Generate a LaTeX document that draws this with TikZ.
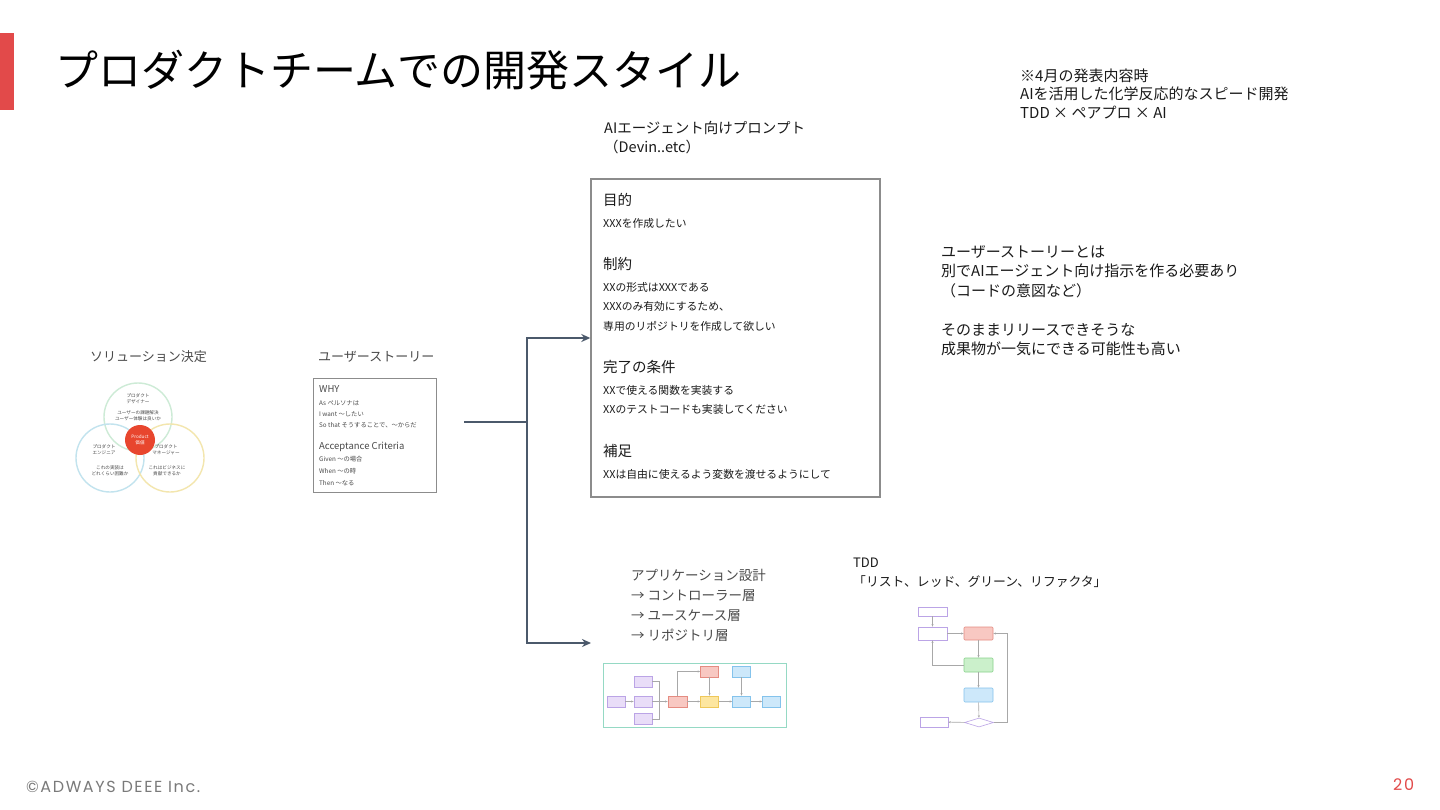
\documentclass[tikz,border=0pt]{standalone}
\usepackage{fontspec}
\setmainfont{Noto Sans CJK JP}
\newfontfamily\footfont[LetterSpace=10]{Poppins}
\usepackage{tikz}
\usetikzlibrary{arrows.meta,positioning,shapes.geometric}
\definecolor{ink}{HTML}{1A1A1A}
\definecolor{subink}{HTML}{4A4A4A}
\definecolor{frame}{HTML}{8C8C8C}
\definecolor{brand}{HTML}{E24A4A}
\definecolor{flowc}{HTML}{4B596B}
\definecolor{foot}{HTML}{7A7A7A}
\definecolor{vgreen}{HTML}{CDEBD6}
\definecolor{vblue}{HTML}{C2E3EE}
\definecolor{vyellow}{HTML}{F3E6AE}
\definecolor{vred}{HTML}{E8462E}
\definecolor{lilac}{HTML}{BBA4E6}
\definecolor{lilacfill}{HTML}{E9DDF8}
\definecolor{salmon}{HTML}{E58C82}
\definecolor{salmonfill}{HTML}{F8C8C2}
\definecolor{butter}{HTML}{EFC85A}
\definecolor{butterfill}{HTML}{FDE6A0}
\definecolor{sky}{HTML}{84C3EC}
\definecolor{skyfill}{HTML}{CDE8FA}
\definecolor{leaf}{HTML}{88D28C}
\definecolor{leaffill}{HTML}{CBF0CB}
\definecolor{mint}{HTML}{95D9C4}
\definecolor{wiregray}{HTML}{A8A8A8}
\tikzset{
  >={Stealth[length=9pt,width=8pt]},
  txt/.style={anchor=west, inner sep=0pt, text=ink, align=left},
  heading/.style={txt, font=\fontsize{14.5}{18}\selectfont},
  body/.style={txt, font=\fontsize{10.8}{14}\selectfont},
  note/.style={txt, font=\fontsize{15}{19.5}\selectfont},
  caption/.style={txt, text=subink, font=\fontsize{13}{16}\selectfont},
  card/.style={draw=frame, line width=1.4pt, fill=white, inner sep=0pt},
  flow/.style={->, line width=1.6pt, draw=flowc},
  ring/.style={circle, draw, line width=1.4pt, minimum size=68pt, inner sep=0pt},
  tiny/.style={align=center, inner sep=0pt, text=subink, font=\fontsize{4.6}{6}\selectfont},
  mini/.style={rectangle, line width=0.6pt, inner sep=0pt, minimum width=18pt, minimum height=11pt},
  wire/.style={line width=0.6pt, draw=wiregray},
  wirea/.style={wire, -{Stealth[length=2.5pt,width=2pt]}}
}

\begin{document}
\begin{tikzpicture}[x=1pt,y=-1pt]
  \useasboundingbox (0,0) rectangle (1440,810);
  \fill[white] (0,0) rectangle (1440,810);

  % title
  \fill[brand] (0,33) rectangle (14,110);
  \node[txt, text=black, font=\fontsize{43}{50}\selectfont] (title) at (55,70) {プロダクトチームでの開発スタイル};
  \node[note, font=\fontsize{15}{18.5}\selectfont] (memo) at (1020,93.5)
    {※4月の発表内容時\\AIを活用した化学反応的なスピード開発\\TDD × ペアプロ × AI};

  % solution
  \node[caption] (soltitle) at (90,357) {ソリューション決定};
  \node[ring, draw=vgreen] (design) at (138,417) {};
  \node[ring, draw=vblue] (eng) at (110,458) {};
  \node[ring, draw=vyellow] (pm) at (170,458) {};
  \node[circle, fill=vred, minimum size=30pt, inner sep=0pt, text=white, align=center,
        font=\fontsize{4.6}{6}\selectfont] (value) at (140,440) {Product\\価値};
  \node[tiny] (designlbl) at (138,399) {プロダクト\\デザイナー};
  \node[tiny] (designtxt) at (138,416) {ユーザーの課題解決\\ユーザー体験は良いか};
  \node[tiny] (englbl) at (104,450) {プロダクト\\エンジニア};
  \node[tiny] (engtxt) at (110,470.5) {これの実装は\\どれくらい困難か};
  \node[tiny] (pmlbl) at (166,450) {プロダクト\\マネージャー};
  \node[tiny] (pmtxt) at (167,470.5) {これはビジネスに\\貢献できるか};

  % user story
  \node[caption] (storytitle) at (318,357) {ユーザーストーリー};
  \node[card, line width=1pt, minimum width=123pt, minimum height=114pt] (story) at (374.5,435) {};
  \node[txt, text=subink, font=\fontsize{9.5}{12}\selectfont] (why) at (319,389) {WHY};
  \node[txt, text=subink, font=\fontsize{6.3}{11}\selectfont] (whytxt) at (319,414)
    {As ペルソナは\\I want ～したい\\So that そうすることで、～からだ};
  \node[txt, text=subink, font=\fontsize{9.5}{12}\selectfont] (accept) at (319,447) {Acceptance Criteria};
  \node[txt, text=subink, font=\fontsize{6.3}{12}\selectfont] (accepttxt) at (319,471)
    {Given ～の場合\\When ～の時\\Then ～なる};

  % prompt
  \node[txt, font=\fontsize{14.5}{19}\selectfont] (prompttitle) at (604,137.5) {AIエージェント向けプロンプト\\（Devin..etc）};
  \node[card, minimum width=289pt, minimum height=318pt] (prompt) at (735.5,338) {};
  \node[heading] (goal) at (603,200) {目的};
  \node[body] (goaltxt) at (603,223) {XXXを作成したい};
  \node[heading] (limit) at (603,264) {制約};
  \node[body, font=\fontsize{10.8}{19.5}\selectfont] (limittxt) at (603,306.5)
    {XXの形式はXXXである\\XXXのみ有効にするため、\\専用のリポジトリを作成して欲しい};
  \node[heading] (done) at (603,367) {完了の条件};
  \node[body, font=\fontsize{10.8}{19}\selectfont] (donetxt) at (603,399.5)
    {XXで使える関数を実装する\\XXのテストコードも実装してください};
  \node[heading] (extra) at (603,451) {補足};
  \node[body] (extratxt) at (603,474) {XXは自由に使えるよう変数を渡せるようにして};

  % application design
  \node[txt, text=subink, font=\fontsize{13.5}{20}\selectfont] (appdesign) at (631,605)
    {アプリケーション設計\\→ コントローラー層\\→ ユースケース層\\→ リポジトリ層};
  \node[draw=mint, line width=1pt, minimum width=183pt, minimum height=64pt, inner sep=0pt] (arch) at (694.5,695) {};
  \node[mini, draw=lilac, fill=lilacfill] (ain) at (616,701.5) {};
  \node[mini, draw=lilac, fill=lilacfill] (ahi) at (643,681.5) {};
  \node[mini, draw=lilac, fill=lilacfill] (amid) at (643,701.5) {};
  \node[mini, draw=lilac, fill=lilacfill] (alo) at (643,719) {};
  \node[mini, draw=salmon, fill=salmonfill, minimum width=19pt] (actrl) at (677.5,701.5) {};
  \node[mini, draw=salmon, fill=salmonfill] (aerr) at (709.5,671.5) {};
  \node[mini, draw=butter, fill=butterfill] (ause) at (709.5,701.5) {};
  \node[mini, draw=sky, fill=skyfill] (aext) at (741.5,671.5) {};
  \node[mini, draw=sky, fill=skyfill] (arepo) at (741.5,701.5) {};
  \node[mini, draw=sky, fill=skyfill] (adb) at (771.5,701.5) {};
  \coordinate (ajoin) at (659,701.5);
  \draw[wirea] (ain) -- (amid);
  \draw[wire] (ahi.east) -| (ajoin);
  \draw[wire] (alo.east) -| (ajoin);
  \draw[wirea] (amid) -- (actrl);
  \draw[wirea] (actrl.north) |- (aerr.west);
  \draw[wirea] (aerr) -- (ause);
  \draw[wirea] (actrl) -- (ause);
  \draw[wirea] (ause) -- (arepo);
  \draw[wirea] (aext) -- (arepo);
  \draw[wirea] (arepo) -- (adb);

  % tdd
  \node[txt, font=\fontsize{13}{16}\selectfont] (tdd) at (853,563) {TDD};
  \node[txt, font=\fontsize{12.8}{16}\selectfont] (tddsteps) at (853,582) {「リスト、レッド、グリーン、リファクタ」};
  \node[mini, draw=lilac, fill=white, minimum width=29pt, minimum height=9pt] (tstart) at (932.5,611.5) {};
  \node[mini, draw=lilac, fill=white, minimum width=29pt, minimum height=13pt] (tlist) at (932.5,633.5) {};
  \node[mini, draw=salmon, fill=salmonfill, minimum width=29pt, minimum height=13pt, rounded corners=1pt] (tred) at (978.5,633.5) {};
  \node[mini, draw=leaf, fill=leaffill, minimum width=29pt, minimum height=14pt, rounded corners=1pt] (tgreen) at (978.5,665) {};
  \node[mini, draw=sky, fill=skyfill, minimum width=29pt, minimum height=14pt, rounded corners=1pt] (tblue) at (978.5,695) {};
  \node[diamond, draw=lilac, fill=white, line width=0.6pt, inner sep=0pt, minimum width=29pt, minimum height=9pt] (tcheck) at (979,722.5) {};
  \node[mini, draw=lilac, fill=white, minimum width=28pt, minimum height=10pt] (tend) at (934,722) {};
  \coordinate (tloop) at (1007,633.5);
  \draw[wirea] (tstart) -- (tlist);
  \draw[wirea] (tlist) -- (tred);
  \draw[wirea] (tred) -- (tgreen);
  \draw[wirea] (tgreen.west) -| (tlist.south);
  \draw[wirea] (tgreen) -- (tblue);
  \draw[wirea] (tblue) -- (tcheck);
  \draw[wirea] (tcheck) -- (tend);
  \draw[wirea] (tcheck.east) -| (tloop) -- (tred.east);

  % notes
  \node[note] (storynote) at (941,300.75)
    {ユーザーストーリーとは\\別でAIエージェント向け指示を作る必要あり\\（コードの意図など）\\[19.5pt]そのままリリースできそうな\\成果物が一気にできる可能性も高い};

  % connectors
  \coordinate (src) at (464,422);
  \coordinate (split) at (527,422);
  \coordinate (appin) at (591,643);
  \draw[flow, -] (src) -- (split);
  \draw[flow] (split) |- (prompt.west);
  \draw[flow] (split) |- (appin);

  % footer
  \node[txt, text=foot, font=\footfont\fontsize{16}{18}\selectfont] (copy) at (26,787) {©ADWAYS DEEE Inc.};
  \node[txt, text=brand, font=\footfont\fontsize{16}{18}\selectfont] (page) at (1393,785) {20};
\end{tikzpicture}
\end{document}
